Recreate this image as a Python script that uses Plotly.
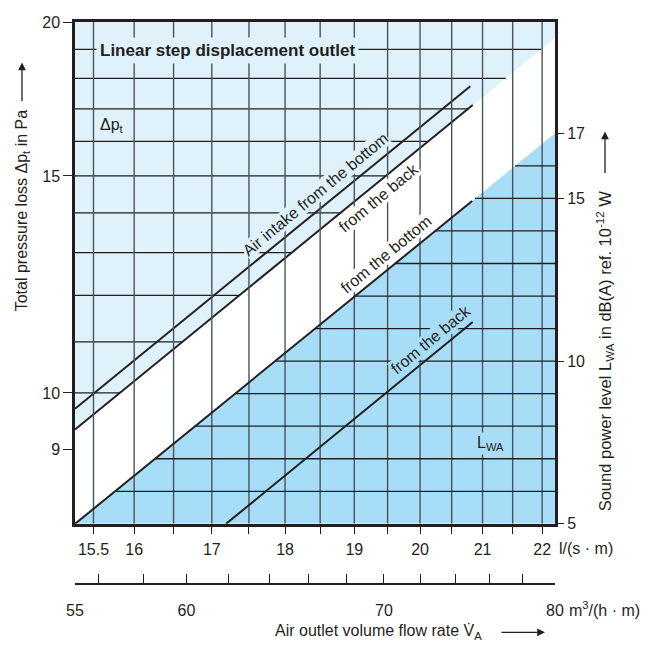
import numpy as np
import plotly.graph_objects as go

# ---------------- data ----------------
flow_ls_range = [15.278, 22.222]          # l/(s·m)  (= 55 ... 80 m3/(h·m))
flow_m3h_range = [55, 80]                 # m3/(h·m)
dp_range = [7.83, 20]                     # Pa
lwa_range = [5, 20.42]                    # dB(A)

flow_ls_ticks = [15.5, 16, 16.5, 17, 17.5, 18, 18.5, 19, 19.5, 20, 20.5, 21, 21.5, 22]
flow_ls_labels = ["15.5", "16", "", "17", "", "18", "", "19", "", "20", "", "21", "", "22"]
flow_m3h_ticks = [55, 56, 58, 60, 62, 64, 66, 68, 70, 72, 74, 76, 78, 80]
flow_m3h_labels = ["55", "", "", "60", "", "", "", "", "70", "", "", "", "", "80"]
dp_ticks = [9, 10, 15, 20]
lwa_ticks = [5, 10, 15, 17]

flow_grid = [15.5, 16, 16.5, 17, 17.5, 18, 18.5, 19, 19.5, 20, 20.5, 21, 21.5, 22]
dp_grid = [10, 11, 12, 13, 14, 15, 16, 17, 18, 19]
lwa_grid = [6, 7, 8, 9, 10, 11, 12, 13, 14, 15, 16]

# pressure loss lines (log-log)
dp_bottom_flow = [15.278, 20.80]
dp_bottom = [9.71, 17.74]
dp_back_flow = [15.278, 20.84]
dp_back = [9.34, 17.13]

# sound power lines
lwa_bottom_flow = [15.278, 20.83]
lwa_bottom = [5.0, 14.92]
lwa_back_flow = [17.19, 20.84]
lwa_back = [5.0, 11.2]

# shaded region boundaries
light_edge_flow = [15.278, 22.222]
light_edge_dp = [9.34, 19.4]
dark_edge_flow = [15.278, 22.222]
dark_edge_lwa = [5.0, 17.0]

# ---------------- styling ----------------
FONT = "Liberation Sans Narrow, Arial Narrow, Liberation Sans, Arial, sans-serif"
INK = "#231f20"
LIGHT = "#dff2fb"
DARK = "#a8ddf7"
HGRID = "#1e1e1e"
VGRID = "#4b5359"

fig = go.Figure()

def line_trace(x, y, color, width, yaxis="y", **kw):
    return go.Scatter(x=x, y=y, mode="lines", line=dict(color=color, width=width),
                      yaxis=yaxis, hoverinfo="skip", showlegend=False, **kw)

# light blue region (above the "from the back" pressure line)
fig.add_trace(go.Scatter(
    x=light_edge_flow + [flow_ls_range[1], flow_ls_range[0]],
    y=light_edge_dp + [dp_range[1], dp_range[1]],
    fill="toself", fillcolor=LIGHT, mode="lines", line=dict(width=0),
    hoverinfo="skip", showlegend=False))

# pressure grid lines, ending at the light region edge
le_logv = np.log10(light_edge_flow)
le_logp = np.log10(light_edge_dp)
gx, gy = [], []
for p in dp_grid:
    v_end = 10 ** np.interp(np.log10(p), le_logp, le_logv)
    gx += [flow_ls_range[0], v_end, None]
    gy += [p, p, None]
fig.add_trace(line_trace(gx, gy, HGRID, 1.3))

# pressure lines
fig.add_trace(line_trace(dp_bottom_flow, dp_bottom, INK, 2.0))
fig.add_trace(line_trace(dp_back_flow, dp_back, INK, 2.0))

# dark blue region (below the "from the bottom" sound line)
fig.add_trace(go.Scatter(
    x=dark_edge_flow + [flow_ls_range[1]],
    y=dark_edge_lwa + [lwa_range[0]],
    fill="toself", fillcolor=DARK, mode="lines", line=dict(width=0),
    yaxis="y2", hoverinfo="skip", showlegend=False))

# vertical grid
vx, vy = [], []
for v in flow_grid:
    vx += [v, v, None]
    vy += [lwa_range[0], lwa_range[1], None]
fig.add_trace(line_trace(vx, vy, VGRID, 1.4, yaxis="y2"))

# sound grid lines, starting at the dark region edge
de_logv = np.log10(dark_edge_flow)
sx, sy = [], []
for L in lwa_grid:
    v_start = 10 ** np.interp(L, dark_edge_lwa, de_logv)
    sx += [v_start, flow_ls_range[1], None]
    sy += [L, L, None]
fig.add_trace(line_trace(sx, sy, HGRID, 1.3, yaxis="y2"))

# sound lines
fig.add_trace(line_trace(lwa_bottom_flow, lwa_bottom, INK, 2.0, yaxis="y2"))
fig.add_trace(line_trace(lwa_back_flow, lwa_back, INK, 2.0, yaxis="y2"))

# invisible trace so the second flow axis is drawn
fig.add_trace(go.Scatter(x=flow_m3h_range, y=[10, 10], xaxis="x2", yaxis="y", mode="lines",
                         line=dict(color="rgba(0,0,0,0)", width=0), hoverinfo="skip", showlegend=False))

# ---------------- layout ----------------
# the page body adds an 8 px offset; plot area in the window: x 75..555, y 14..584
BODY = 8
W, H = 651 - BODY, 646 - BODY
ML, MR, MT, MB = 75 - BODY, 96, 14 - BODY, 62
PL, PR, PT, PB = 75, 555, 14, 584
PLOT_BOTTOM = 523

def px(xp):
    return (xp - PL) / (PR - PL)

def py(yp):
    return (PB - yp) / (PB - PT)

fig.update_layout(
    width=W, height=H,
    margin=dict(l=ML, r=MR, t=MT, b=MB),
    plot_bgcolor="rgba(0,0,0,0)", paper_bgcolor="white",
    showlegend=False,
    font=dict(family=FONT, size=16, color=INK),
    xaxis=dict(type="log", range=[np.log10(r) for r in flow_ls_range],
               tickvals=flow_ls_ticks, ticktext=flow_ls_labels,
               ticks="outside", ticklen=7, tickwidth=1.3, tickcolor=INK,
               showline=True, linewidth=2.5, linecolor=INK, mirror=True,
               showgrid=False, zeroline=False, anchor="y", domain=[0, 1],
               ticklabelstandoff=2),
    xaxis2=dict(type="log", range=[np.log10(r) for r in flow_m3h_range],
                tickvals=flow_m3h_ticks, ticktext=flow_m3h_labels,
                ticks="inside", ticklen=9, tickwidth=1.3, tickcolor=INK,
                showline=True, linewidth=2, linecolor=INK,
                showgrid=False, zeroline=False, anchor="free", position=0,
                domain=[0, 1], ticklabelstandoff=12),
    yaxis=dict(type="log", range=[np.log10(r) for r in dp_range],
               domain=[py(PLOT_BOTTOM), 1],
               tickvals=dp_ticks, ticktext=[str(t) for t in dp_ticks],
               ticks="outside", ticklen=9, tickwidth=1.3, tickcolor=INK,
               showline=True, linewidth=2.5, linecolor=INK, mirror=True,
               showgrid=False, zeroline=False, anchor="x"),
    yaxis2=dict(range=lwa_range, overlaying="y", side="right", anchor="x",
                tickvals=lwa_ticks, ticktext=[str(t) for t in lwa_ticks],
                ticks="outside", ticklen=8, tickwidth=1.3, tickcolor=INK,
                showline=False, showgrid=False, zeroline=False),
)

TF = dict(family=FONT, size=16, color=INK)
annots = [
    dict(x=px(227), y=py(43), text="<b>Linear step displacement outlet</b>",
         font=dict(family=FONT, size=17, color=INK), bgcolor=LIGHT, borderpad=3),
    dict(x=px(98), y=py(119), xanchor="left", text="Δp<sub>t</sub>", font=TF),
    dict(x=px(475), y=py(442), xanchor="left", text="L<sub>WA</sub>", font=TF,
         bgcolor=DARK, borderpad=1),
    dict(x=px(557), y=py(548), xanchor="left", text="l/(s · m)", font=TF),
    dict(x=px(567), y=py(609), xanchor="left", text="m<sup>3</sup>/(h · m)", font=TF),
    dict(x=px(22), y=py(205), text="Total pressure loss Δp<sub>t</sub> in Pa",
         textangle=-90, font=TF),
    dict(x=px(605), y=py(348), text="Sound power level L<sub>WA</sub> in dB(A) ref. 10<sup>-12</sup> W",
         textangle=-90, font=dict(family=FONT, size=16.5, color=INK)),
    dict(x=px(273), y=py(633), xanchor="left", text="Air outlet volume flow rate V\u0307<sub>A</sub>", font=TF),
]
for a in annots:
    a.update(xref="paper", yref="paper", showarrow=False)
    a.setdefault("xanchor", "center")
    a.setdefault("yanchor", "middle")
    fig.add_annotation(**a)

# labels laid along the lines, offset perpendicular to them
ANG = 39.6
S, C = np.sin(np.radians(ANG)), np.cos(np.radians(ANG))

def dp_on(fx, fy, v):
    return 10 ** np.interp(np.log10(v), np.log10(fx), np.log10(fy))

def lwa_on(fx, fy, v):
    return np.interp(np.log10(v), np.log10(fx), fy)

line_labels = [
    # text, flow at label centre, y-ref, y value, perpendicular offset (+ above), background
    ("Air intake from the bottom", 18.56, "y", np.log10(dp_on(dp_bottom_flow, dp_bottom, 18.56)), 14, LIGHT),
    ("from the back", 19.25, "y", np.log10(dp_on(dp_back_flow, dp_back, 19.25)), -13, "white"),
    ("from the bottom", 19.60, "y2", lwa_on(lwa_bottom_flow, lwa_bottom, 19.60), 13, "white"),
    ("from the back", 20.30, "y2", lwa_on(lwa_back_flow, lwa_back, 20.30), 13, DARK),
]
for text, v, yref, yv, d, bg in line_labels:
    fig.add_annotation(x=np.log10(v), y=yv, xref="x", yref=yref, text=text,
                       textangle=-ANG, showarrow=False, font=TF,
                       xshift=-S * d, yshift=C * d, bgcolor=bg, borderpad=0,
                       xanchor="center", yanchor="middle")

arrows = [
    dict(x=px(22), y=py(55), ax=0, ay=40),
    dict(x=px(605), y=py(125), ax=0, ay=43),
    dict(x=px(545), y=py(633), ax=-45, ay=0),
]
for a in arrows:
    fig.add_annotation(xref="paper", yref="paper", text="", showarrow=True,
                       arrowhead=2, arrowsize=1.2, arrowwidth=1.3, arrowcolor=INK, **a)

fig.write_html("out.html")
